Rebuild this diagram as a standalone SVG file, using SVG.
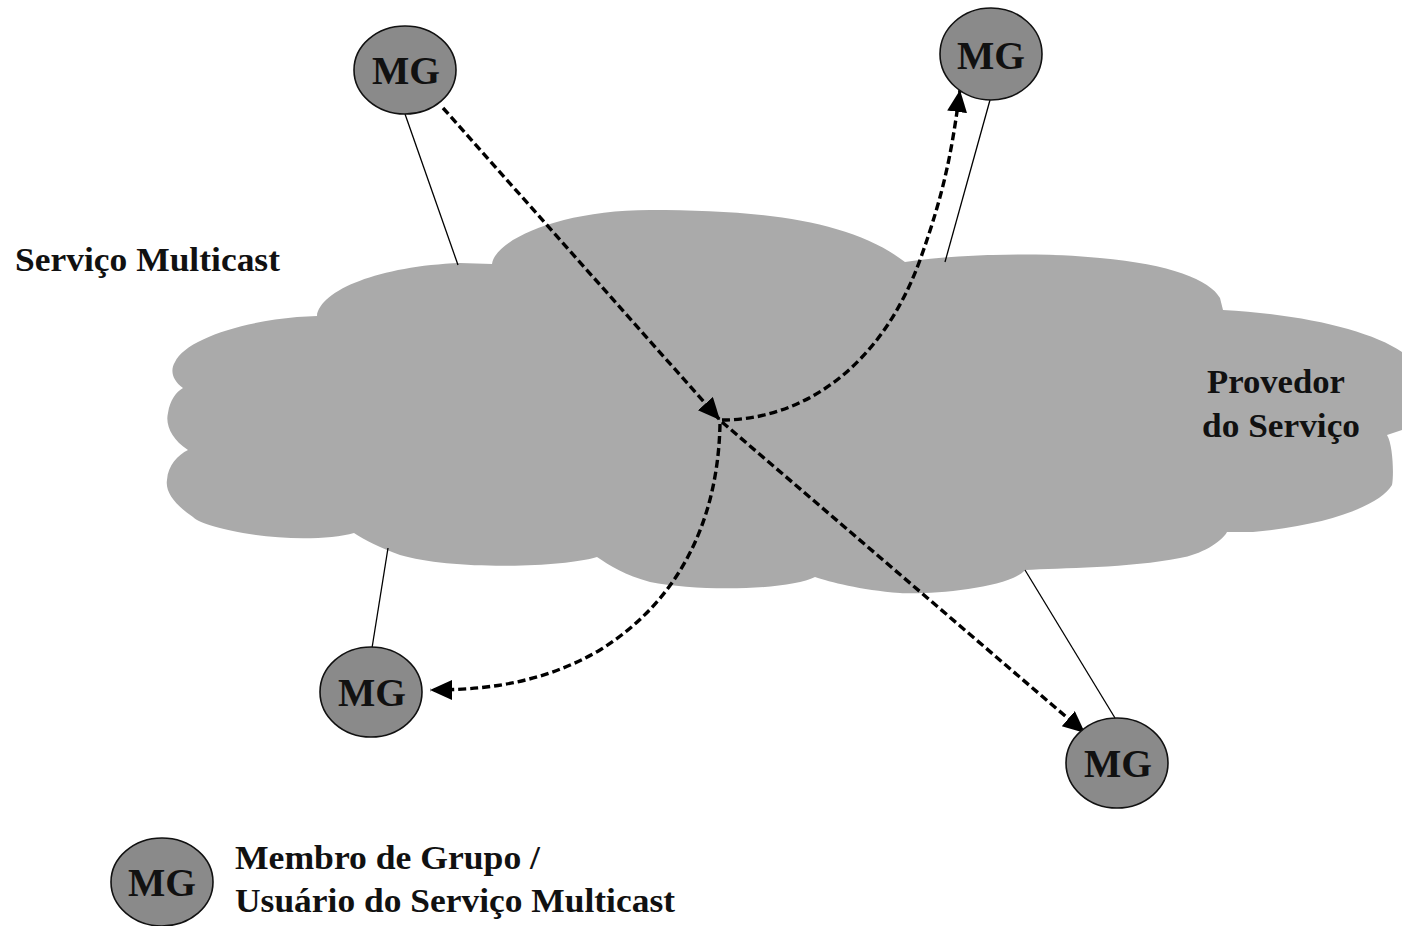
<svg xmlns="http://www.w3.org/2000/svg" width="1402" height="926" viewBox="0 0 1402 926">
<style>
.mg{fill:#8a8a8a;stroke:#111;stroke-width:1.6}
.mgt{font-family:"Liberation Serif",serif;font-weight:bold;font-size:40px;fill:#111;text-anchor:middle}
.lbl{font-family:"Liberation Serif",serif;font-weight:bold;font-size:34px;fill:#111}
.thin{fill:none;stroke:#000;stroke-width:1.3}
.dash{fill:none;stroke:#000;stroke-width:3.4;stroke-dasharray:8 4}
</style>
<defs>
<marker id="ah" markerUnits="userSpaceOnUse" markerWidth="26" markerHeight="22" refX="22" refY="10" orient="auto">
<path d="M0,0 L22,10 L0,20 Z" fill="#000"/>
</marker>
</defs>
<rect width="1402" height="926" fill="#fff"/>
<g id="cloud">
<path fill="#aaaaaa" d="M175 362 C185 340 240 322 297 317 L317 316 C320 290 380 266 460 263 L492 264 C495 240 560 210 650 210 C760 210 850 220 905 262 C960 254 1040 252 1100 258 C1170 264 1210 280 1220 298 L1223 310 C1300 314 1370 330 1402 352 L1402 430 L1387 435 C1393 445 1394 475 1392 485 C1380 505 1330 525 1253 532 L1227 532 C1222 542 1200 555 1180 558 C1130 568 1060 568 1025 570 C1010 588 930 595 900 593 C860 590 830 582 815 577 C790 590 700 592 650 582 C625 575 610 566 597 557 C560 568 450 570 400 555 C380 548 365 540 354 533 C330 540 280 540 243 533 C215 528 198 522 193 517 C175 505 165 492 167 480 C168 465 178 455 188 450 C172 440 165 425 168 413 C170 400 176 392 183 388 C172 380 170 370 175 362 Z"/>
<text class="lbl" x="1207" y="393" textLength="138" lengthAdjust="spacingAndGlyphs">Provedor</text>
<text class="lbl" x="1202" y="437" textLength="158" lengthAdjust="spacingAndGlyphs">do Serviço</text>
</g>
<text id="title" class="lbl" x="15" y="271" textLength="265" lengthAdjust="spacingAndGlyphs">Serviço Multicast</text>
<g id="connectors">
<line class="thin" x1="405" y1="114" x2="458" y2="265"/>
<line class="thin" x1="990" y1="100" x2="945" y2="262"/>
<line class="thin" x1="388" y1="548" x2="372" y2="648"/>
<line class="thin" x1="1025" y1="570" x2="1115" y2="718"/>
<path class="dash" d="M443 108 L720 420" marker-end="url(#ah)"/>
<path class="dash" d="M722 422 L1085 733" marker-end="url(#ah)"/>
<path class="dash" d="M722 420 C800 420 880 370 920 260 C945 190 952 150 960 90" marker-end="url(#ah)"/>
<path class="dash" d="M720 424 C718 520 680 600 600 650 C540 685 480 690 430 690" marker-end="url(#ah)"/>
</g>
<g id="mg1"><ellipse class="mg" cx="405" cy="70" rx="51" ry="44"/><text class="mgt" x="406" y="84" textLength="68" lengthAdjust="spacingAndGlyphs">MG</text></g>
<g id="mg2"><ellipse class="mg" cx="991" cy="54" rx="51" ry="46"/><text class="mgt" x="991" y="69" textLength="68" lengthAdjust="spacingAndGlyphs">MG</text></g>
<g id="mg3"><ellipse class="mg" cx="371" cy="692" rx="51" ry="45"/><text class="mgt" x="372" y="706" textLength="68" lengthAdjust="spacingAndGlyphs">MG</text></g>
<g id="mg4"><ellipse class="mg" cx="1117" cy="763" rx="51" ry="45"/><text class="mgt" x="1118" y="777" textLength="68" lengthAdjust="spacingAndGlyphs">MG</text></g>
<g id="legend">
<ellipse class="mg" cx="162" cy="882" rx="51" ry="44"/><text class="mgt" x="162" y="896" textLength="68" lengthAdjust="spacingAndGlyphs">MG</text>
<text class="lbl" x="235" y="869" textLength="305" lengthAdjust="spacingAndGlyphs">Membro de Grupo /</text>
<text class="lbl" x="235" y="912" textLength="440" lengthAdjust="spacingAndGlyphs">Usuário do Serviço Multicast</text>
</g>
</svg>
